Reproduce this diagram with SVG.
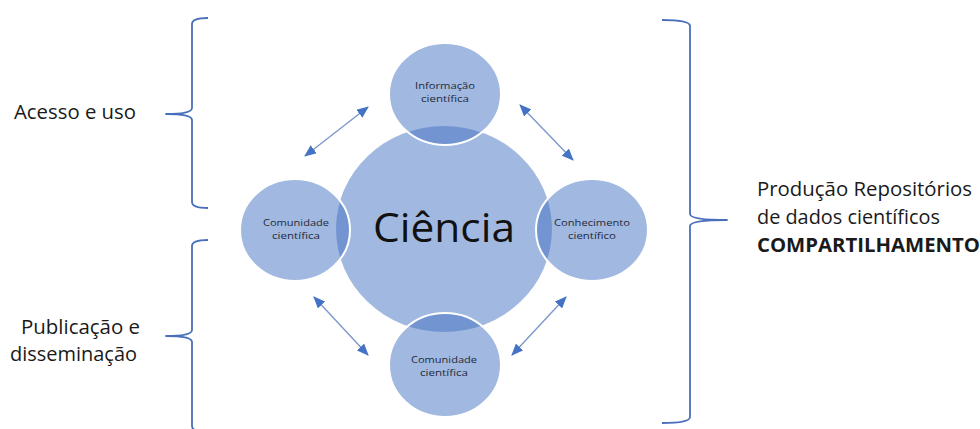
<svg xmlns="http://www.w3.org/2000/svg" width="980" height="429" viewBox="0 0 980 429">
  <defs>
    <marker id="ah" viewBox="0 0 12 10" refX="11" refY="5" markerWidth="12" markerHeight="10" markerUnits="userSpaceOnUse" orient="auto-start-reverse">
      <path d="M0,0 L12,5 L0,10 Z" fill="#4472c4"/>
    </marker>
    <style>
      .big { fill: #4472c4; fill-opacity: 0.5; }
      .sm { fill: #4472c4; fill-opacity: 0.5; stroke: #ffffff; stroke-width: 2; }
      .lbl { font-family: "Open Sans", "Noto Sans", "Liberation Sans", sans-serif; font-size: 9.5px; fill: #1f2a3a; text-anchor: middle; }
      .side { font-family: "Open Sans", "Noto Sans", "Liberation Sans", sans-serif; font-size: 20px; fill: #1a1a1a; }
      .brace { fill: none; stroke: #4a6fba; stroke-width: 1.8; stroke-linejoin: round; }
      .arr { stroke: #7d98cc; stroke-width: 1.4; fill: none; marker-start: url(#ah); marker-end: url(#ah); }
    </style>
  </defs>
  <rect width="980" height="429" fill="#ffffff"/>

  <g id="brackets">
    <path class="brace" d="M208,18 Q192,18 192,24 V108 Q192,114 166,114 Q192,114 192,120 V202 Q192,208 208,208"/>
    <path class="brace" d="M208,240 Q192,240 192,246 V330 Q192,336 166,336 Q192,336 192,342 V426 Q192,432 208,432"/>
    <path class="brace" d="M662,20 Q690,20 690,26 V214 Q690,220 727,220 Q690,220 690,226 V417 Q690,423 662,423"/>
  </g>

  <g id="ciencia">
    <ellipse class="big" cx="444" cy="229" rx="108" ry="103"/>
    <text x="444" y="242" font-family="Open Sans, Noto Sans, Liberation Sans, sans-serif" font-size="41" fill="#111111" text-anchor="middle" textLength="142" lengthAdjust="spacingAndGlyphs">Ciência</text>
  </g>

  <g id="informacao">
    <ellipse class="sm" cx="445" cy="94" rx="56" ry="51"/>
    <text class="lbl" x="445" y="89" textLength="60" lengthAdjust="spacingAndGlyphs">Informação</text>
    <text class="lbl" x="445" y="102" textLength="48" lengthAdjust="spacingAndGlyphs">científica</text>
  </g>

  <g id="comunidade-esq">
    <ellipse class="sm" cx="295" cy="230" rx="55" ry="51"/>
    <text class="lbl" x="296" y="226" textLength="66" lengthAdjust="spacingAndGlyphs">Comunidade</text>
    <text class="lbl" x="296" y="239" textLength="48" lengthAdjust="spacingAndGlyphs">científica</text>
  </g>

  <g id="conhecimento">
    <ellipse class="sm" cx="592" cy="230" rx="56" ry="51"/>
    <text class="lbl" x="592" y="226" textLength="76" lengthAdjust="spacingAndGlyphs">Conhecimento</text>
    <text class="lbl" x="592" y="239" textLength="48" lengthAdjust="spacingAndGlyphs">científico</text>
  </g>

  <g id="comunidade-inf">
    <ellipse class="sm" cx="445" cy="365" rx="56" ry="52"/>
    <text class="lbl" x="444" y="363" textLength="66" lengthAdjust="spacingAndGlyphs">Comunidade</text>
    <text class="lbl" x="444" y="376" textLength="48" lengthAdjust="spacingAndGlyphs">científica</text>
  </g>

  <g id="connectors">
    <line class="arr" x1="305" y1="156" x2="368" y2="107"/>
    <line class="arr" x1="520" y1="105" x2="573" y2="160"/>
    <line class="arr" x1="314" y1="297" x2="368" y2="355"/>
    <line class="arr" x1="566" y1="297" x2="512" y2="355"/>
  </g>

  <g id="acesso">
    <text class="side" x="14" y="119" textLength="122" lengthAdjust="spacingAndGlyphs">Acesso e uso</text>
  </g>
  <g id="publicacao">
    <text class="side" x="21" y="334" font-size="19" textLength="119" lengthAdjust="spacingAndGlyphs">Publicação e</text>
    <text class="side" x="10" y="361" font-size="19" textLength="127" lengthAdjust="spacingAndGlyphs">disseminação</text>
  </g>
  <g id="producao">
    <text class="side" x="757" y="196" textLength="215" lengthAdjust="spacingAndGlyphs">Produção Repositórios</text>
    <text class="side" x="757" y="224" textLength="183" lengthAdjust="spacingAndGlyphs">de dados científicos</text>
    <text class="side" x="757" y="252" font-weight="bold" textLength="223" lengthAdjust="spacingAndGlyphs">COMPARTILHAMENTO</text>
  </g>
</svg>
